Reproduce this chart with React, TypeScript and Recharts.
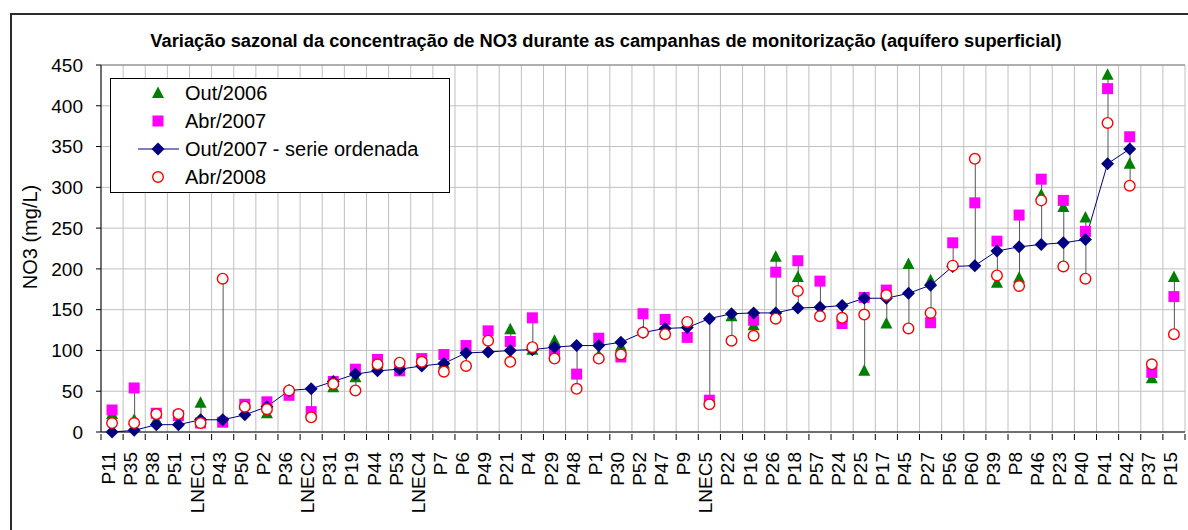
import { ComposedChart, Line, Scatter, Bar, XAxis, YAxis, CartesianGrid, ReferenceLine } from 'recharts';

// ── Data ────────────────────────────────────────────────────────────────────
const stations = [
  'P11', 'P35', 'P38', 'P51', 'LNEC1', 'P43', 'P50', 'P2', 'P36', 'LNEC2',
  'P31', 'P19', 'P44', 'P53', 'LNEC4', 'P7', 'P6', 'P49', 'P21', 'P4',
  'P29', 'P48', 'P1', 'P30', 'P52', 'P47', 'P9', 'LNEC5', 'P22', 'P16',
  'P26', 'P18', 'P57', 'P24', 'P25', 'P17', 'P45', 'P27', 'P56', 'P60',
  'P39', 'P8', 'P46', 'P23', 'P40', 'P41', 'P42', 'P37', 'P15',
];

const out2006 = [
  22, 15, 15, null, 36, null, null, 23, null, null,
  55, 67, 84, null, null, 84, 103, null, 126, 101,
  112, null, 94, 105, null, null, null, null, 142, 131,
  215, 190, null, 141, 75, 133, 206, 186, null, null,
  183, 189, 291, 276, 263, 438, 329, 66, 190,
];

const abr2007 = [
  27, 54, 23, 20, 11, 12, 34, 37, 45, 25,
  62, 77, 89, 75, 90, 95, 106, 124, 111, 140,
  100, 71, 115, 92, 145, 138, 116, 39, null, 137,
  196, 210, 185, 133, 165, 174, null, 134, 232, 281,
  234, 266, 310, 284, 246, 421, 362, 73, 166,
];

const out2007 = [
  0, 2, 9, 9, 15, 15, 21, 31, 51, 53,
  62, 71, 75, 77, 81, 84, 97, 98, 100, 101,
  104, 106, 106, 110, 122, 127, 128, 139, 145, 146,
  146, 152, 153, 155, 164, 164, 170, 180, 203, 204,
  222, 227, 230, 232, 236, 329, 347, null, null,
];

const abr2008 = [
  11, 11, 22, 22, 11, 188, 31, 28, 51, 18,
  59, 51, 83, 85, 86, 74, 81, 112, 86, 104,
  90, 53, 90, 95, 122, 120, 135, 34, 112, 118,
  139, 173, 142, 140, 144, 168, 127, 146, 204, 335,
  192, 179, 284, 203, 188, 379, 302, 83, 120,
];

const yTicks = [0, 50, 100, 150, 200, 250, 300, 350, 400, 450];

const data = stations.map((name, i) => {
  const vals = [out2006[i], abr2007[i], out2007[i], abr2008[i]].filter((v) => v != null) as number[];
  return {
    name,
    out2006: out2006[i],
    abr2007: abr2007[i],
    out2007: out2007[i],
    abr2008: abr2008[i],
    hl: [Math.min(...vals), Math.max(...vals)],
  };
});

// ── Styles ──────────────────────────────────────────────────────────────────
const FONT = '"Liberation Sans", Arial, sans-serif';
const GREEN = '#008000';
const MAGENTA = '#ff00ff';
const NAVY = '#000080';
const RED = '#ff0000';
const GRID = '#c0c0c0';

// ── Marker shapes ───────────────────────────────────────────────────────────
const ok = (p: any, key: string) => p.payload && p.payload[key] != null && Number.isFinite(p.cx) && Number.isFinite(p.cy);

const Triangle = (p: any) =>
  ok(p, 'out2006') ? (
    <path d={`M${p.cx},${p.cy - 6.5} L${p.cx + 6},${p.cy + 5} L${p.cx - 6},${p.cy + 5} Z`} fill={GREEN} />
  ) : <g />;

const Square = (p: any) =>
  ok(p, 'abr2007') ? <rect x={p.cx - 5.5} y={p.cy - 5.5} width={11} height={11} fill={MAGENTA} /> : <g />;

const Circle = (p: any) =>
  ok(p, 'abr2008') ? <circle cx={p.cx} cy={p.cy} r={5.3} fill="#fff" stroke={RED} strokeWidth={1.4} /> : <g />;

const Diamond = (p: any) =>
  ok(p, 'out2007') ? (
    <path
      key={p.index}
      d={`M${p.cx},${p.cy - 6.5} L${p.cx + 6.5},${p.cy} L${p.cx},${p.cy + 6.5} L${p.cx - 6.5},${p.cy} Z`}
      fill={NAVY}
    />
  ) : <g key={p.index} />;

// vertical gridlines on category boundaries
const boundaryLines = ({ offset }: any) =>
  stations.map((_, i) => offset.left + (i * offset.width) / stations.length).concat([offset.left + offset.width]);

function StationTick({ x, y, payload, index }: any) {
  const half = payload.offset || 0;
  const ty = 452;
  return (
    <g>
      <line x1={x - half} x2={x - half} y1={y} y2={y + 6} stroke="#000" />
      {index === stations.length - 1 && <line x1={x + half} x2={x + half} y1={y} y2={y + 6} stroke="#000" />}
      <text x={x} y={ty} dy={3} transform={`rotate(-90 ${x} ${ty})`} textAnchor="end" fontSize={19} fontFamily={FONT} fill="#000">
        {payload.value}
      </text>
    </g>
  );
}

function Legend() {
  const rows = [
    { label: 'Out/2006', y: 15 },
    { label: 'Abr/2007', y: 43 },
    { label: 'Out/2007 - serie ordenada', y: 71 },
    { label: 'Abr/2008', y: 99 },
  ];
  const cx = 48;
  return (
    <svg width={340} height={115} style={{ position: 'absolute', left: 110, top: 78 }}>
      <rect x={0.5} y={0.5} width={339} height={114} fill="#fff" stroke="#000" />
      <path d={`M${cx},${rows[0].y - 6.5} L${cx + 6},${rows[0].y + 5} L${cx - 6},${rows[0].y + 5} Z`} fill={GREEN} />
      <rect x={cx - 5.5} y={rows[1].y - 5.5} width={11} height={11} fill={MAGENTA} />
      <line x1={28} x2={69} y1={rows[2].y} y2={rows[2].y} stroke={NAVY} strokeWidth={1} />
      <path d={`M${cx},${rows[2].y - 6.5} L${cx + 6.5},${rows[2].y} L${cx},${rows[2].y + 6.5} L${cx - 6.5},${rows[2].y} Z`} fill={NAVY} />
      <circle cx={cx} cy={rows[3].y} r={5.3} fill="#fff" stroke={RED} strokeWidth={1.4} />
      {rows.map((r) => (
        <text key={r.label} x={75} y={r.y + 7} fontSize={20} fontFamily={FONT} fill="#000">
          {r.label}
        </text>
      ))}
    </svg>
  );
}

export default function App() {
  return (
    <div style={{ position: 'absolute', left: 0, top: 0, width: 1188, height: 530, overflow: 'hidden', background: '#fff' }}>
      <div style={{ position: 'absolute', left: 10, top: 13, width: 1200, height: 540, border: '2px solid #2b2b2b' }} />
      <div style={{ position: 'absolute', left: 0, top: 0 }}>
        <ComposedChart width={1188} height={530} data={data} margin={{ top: 65, right: 3, left: 0, bottom: 0 }}>
          <CartesianGrid
            xAxisId="cat"
            yAxisId="left"
            stroke={GRID}
            strokeWidth={1}
            verticalCoordinatesGenerator={boundaryLines}
          />
          <XAxis
            xAxisId="cat"
            dataKey="name"
            interval={0}
            height={98}
            tickLine={false}
            axisLine={{ stroke: '#000' }}
            tickSize={0}
            tick={<StationTick />}
          />
          <YAxis
            yAxisId="left"
            domain={[0, 450]}
            ticks={yTicks}
            interval={0}
            width={101}
            tickSize={5}
            tickMargin={13}
            axisLine={{ stroke: '#000' }}
            tickLine={{ stroke: '#000' }}
            tick={{ fontSize: 19, fontFamily: FONT, fill: '#000' }}
          />
          <YAxis
            yAxisId="right"
            orientation="right"
            domain={[0, 450]}
            width={0}
            tick={false}
            tickLine={false}
            axisLine={{ stroke: '#808080' }}
          />
          <ReferenceLine xAxisId="cat" yAxisId="left" y={450} stroke="#808080" />
          <Bar xAxisId="cat" yAxisId="left" dataKey="hl" barSize={1} fill="#555" isAnimationActive={false} />
          <Scatter xAxisId="cat" yAxisId="left" dataKey="out2006" shape={Triangle} isAnimationActive={false} />
          <Scatter xAxisId="cat" yAxisId="left" dataKey="abr2007" shape={Square} isAnimationActive={false} />
          <Line
            xAxisId="cat"
            yAxisId="left"
            dataKey="out2007"
            stroke={NAVY}
            strokeWidth={1}
            dot={Diamond}
            activeDot={false}
            isAnimationActive={false}
          />
          <Scatter xAxisId="cat" yAxisId="left" dataKey="abr2008" shape={Circle} isAnimationActive={false} />
        </ComposedChart>
      </div>
      <svg width={1188} height={530} style={{ position: 'absolute', left: 0, top: 0, pointerEvents: 'none' }}>
        <text x={606} y={47} textAnchor="middle" fontSize={18.3} fontWeight="bold" fontFamily={FONT} fill="#000">
          Variação sazonal da concentração de NO3 durante as campanhas de monitorização (aquífero superficial)
        </text>
        <text x={37} y={237} transform="rotate(-90 37 237)" textAnchor="middle" fontSize={20} fontFamily={FONT} fill="#000">
          NO3 (mg/L)
        </text>
      </svg>
      <Legend />
    </div>
  );
}
